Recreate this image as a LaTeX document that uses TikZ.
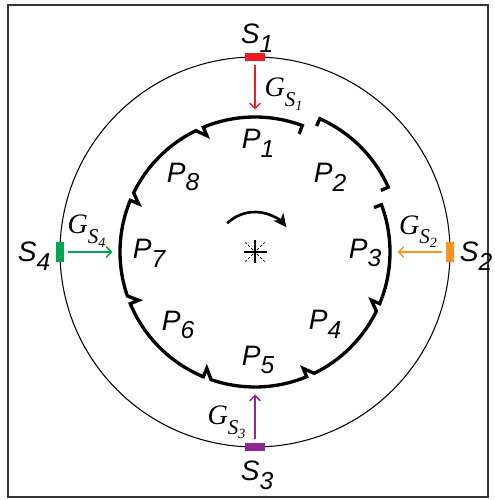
\documentclass[tikz,border=0pt]{standalone}
\usepackage{fontspec}
\setmainfont{Liberation Serif}
\setsansfont{Liberation Sans}
\usetikzlibrary{arrows.meta, positioning}
\definecolor{sred}{HTML}{ED1C24}
\definecolor{sorange}{HTML}{F7941D}
\definecolor{sgreen}{HTML}{00A651}
\definecolor{spurple}{HTML}{92278F}
\newcommand{\plab}[2]{\sffamily\itshape #1\raisebox{-5pt}{\fontsize{14}{14}\selectfont #2}}
\newcommand{\glab}[1]{\rmfamily\itshape G\raisebox{-5.5pt}{\fontsize{12}{12}\selectfont S\raisebox{-2.2pt}{\fontsize{8}{8}\selectfont #1}}}

\begin{document}
\begin{tikzpicture}[
  sensor/.style={draw=none, inner sep=0pt},
  sigarrow/.style={line width=0.85pt, -{Straight Barb[length=3pt,width=6pt]}, shorten <=0.07cm},
  ring/.style={line width=1.9pt},
  lab/.style={inner sep=0pt, font=\fontsize{16}{19}\selectfont}
]
  \useasboundingbox (0,0) rectangle (9.88,10);
  \draw[black!80, line width=0.6pt] (0.16,0.06) rectangle (9.76,9.90);
  \begin{scope}[shift={(5.10,4.96)}]
    % outer circle
    \draw[line width=0.6pt] (0,0) circle[radius=3.9];
    % segmented ring, P1 round to P3
    \draw[ring] (69.5:2.52) -- (69.5:2.7)
      arc[start angle=69.5, end angle=112.5, radius=2.7]
      -- (112.5:2.52) -- (116:2.7)
      arc[start angle=116, end angle=154, radius=2.7]
      -- (157.5:2.52) -- (157.5:2.7)
      arc[start angle=157.5, end angle=199, radius=2.7]
      -- (202.5:2.52) -- (202.5:2.7)
      arc[start angle=202.5, end angle=247.5, radius=2.7]
      -- (247.5:2.52) -- (251:2.7)
      arc[start angle=251, end angle=292.5, radius=2.7]
      -- (292.5:2.52) -- (296:2.7)
      arc[start angle=296, end angle=334, radius=2.7]
      -- (337.5:2.52) -- (337.5:2.7)
      arc[start angle=337.5, end angle=380.5, radius=2.7]
      -- (380.5:2.54);
    % panel P2, pushed out
    \draw[ring, shift={(45:0.28)}] (66:2.54) -- (66:2.7)
      arc[start angle=66, end angle=24, radius=2.7] -- (24:2.54);
    % panel labels
    \node[lab] (p1) at (0.06,2.18) {\plab{P}{1}};
    \node[lab] (p2) at (1.50,1.50) {\plab{P}{2}};
    \node[lab] (p3) at (2.20,-0.02) {\plab{P}{3}};
    \node[lab] (p4) at (1.40,-1.44) {\plab{P}{4}};
    \node[lab] (p5) at (0.06,-2.16) {\plab{P}{5}};
    \node[lab] (p6) at (-1.54,-1.46) {\plab{P}{6}};
    \node[lab] (p7) at (-2.12,-0.02) {\plab{P}{7}};
    \node[lab] (p8) at (-1.44,1.50) {\plab{P}{8}};
    % rotation and centre mark
    \draw[line width=1.5pt, -{Stealth[length=7.5pt,width=7pt,inset=2pt]}]
      (134:0.8) arc[start angle=134, end angle=38, radius=0.8];
    \draw[line width=0.6pt] (-0.23,0) -- (0.23,0) (0,-0.23) -- (0,0.23);
    \draw[line width=0.45pt, dash pattern=on 1.5pt off 1.2pt]
      (45:0.05) -- (45:0.27) (135:0.05) -- (135:0.27)
      (225:0.05) -- (225:0.27) (315:0.05) -- (315:0.27);
    % sensors
    \node[sensor, fill=sred, minimum width=0.4cm, minimum height=0.16cm] (s1) at (90:3.9) {};
    \node[sensor, fill=sorange, minimum width=0.16cm, minimum height=0.4cm] (s2) at (0:3.9) {};
    \node[sensor, fill=spurple, minimum width=0.4cm, minimum height=0.16cm] (s3) at (270:3.9) {};
    \node[sensor, fill=sgreen, minimum width=0.16cm, minimum height=0.4cm] (s4) at (180:3.9) {};
    \node[lab] (l1) at (0.04,4.28) {\plab{S}{1}};
    \node[lab] (l2) at (4.42,-0.08) {\plab{S}{2}};
    \node[lab] (l3) at (0.04,-4.46) {\plab{S}{3}};
    \node[lab] (l4) at (-4.42,-0.08) {\plab{S}{4}};
    % signal arrows
    \coordinate (t1) at (90:2.85);
    \coordinate (t2) at (0:2.85);
    \coordinate (t3) at (270:2.85);
    \coordinate (t4) at (180:2.85);
    \draw[sigarrow, sred] (s1) -- (t1);
    \draw[sigarrow, sorange] (s2) -- (t2);
    \draw[sigarrow, spurple] (s3) -- (t3);
    \draw[sigarrow, sgreen] (s4) -- (t4);
    \node[lab] (g1) at (0.57,3.16) {\glab{1}};
    \node[lab] (g2) at (3.26,0.41) {\glab{2}};
    \node[lab] (g3) at (-0.57,-3.40) {\glab{3}};
    \node[lab] (g4) at (-3.37,0.42) {\glab{4}};
  \end{scope}
\end{tikzpicture}
\end{document}
